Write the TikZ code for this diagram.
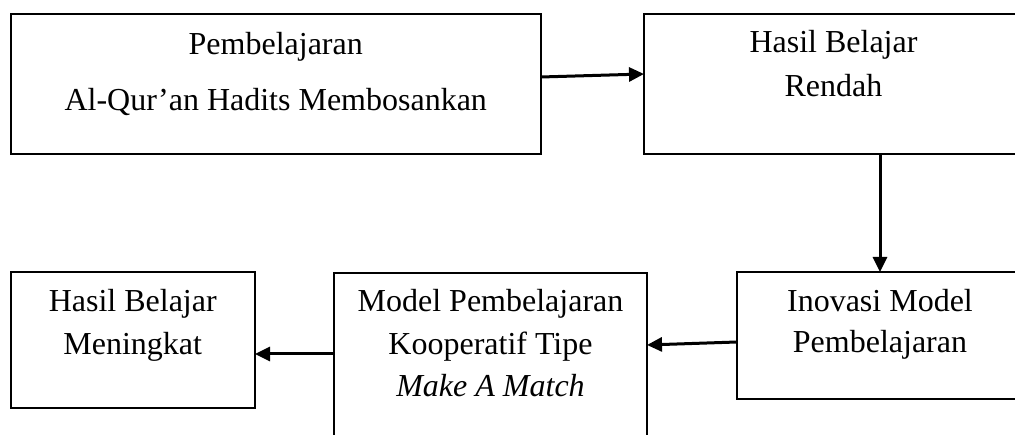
\documentclass[tikz,border=0pt]{standalone}
\usepackage{fontspec}
\setmainfont{Liberation Serif}
\usetikzlibrary{arrows.meta}
\begin{document}
\begin{tikzpicture}[x=1pt,y=-1pt,
  box/.style={draw, line width=2pt, inner sep=0pt, outer sep=0pt, rectangle},
  txt/.style={anchor=base, inner sep=0pt, font=\fontsize{32}{38}\selectfont},
  arr/.style={line width=3pt, -{Triangle[length=15pt,width=14pt]}}]
\useasboundingbox (0,0) rectangle (1015,435);
\clip (0,0) rectangle (1015,435);

% boxes
\node[box, minimum width=530.5pt, minimum height=140pt] (b1) at (275.75,84) {};
\node[box, minimum width=379pt, minimum height=140pt] (b2) at (833.5,84) {};
\node[box, minimum width=286pt, minimum height=127pt] (b3) at (880,335.5) {};
\node[box, minimum width=313pt, minimum height=197pt] (b4) at (490.5,371.5) {};
\node[box, minimum width=244.5pt, minimum height=136pt] (b5) at (132.75,340) {};

% texts
\node[txt] (t1a) at (275.75,55) {Pembelajaran};
\node[txt] (t1b) at (275.75,111) {Al-Qur’an Hadits Membosankan};
\node[txt] (t2a) at (833.5,53) {Hasil Belajar};
\node[txt] (t2b) at (833.5,97) {Rendah};
\node[txt] (t3a) at (880,312) {Inovasi Model};
\node[txt] (t3b) at (880,353) {Pembelajaran};
\node[txt] (t4a) at (490.5,312) {Model Pembelajaran};
\node[txt] (t4b) at (490.5,355) {Kooperatif Tipe};
\node[txt] (t4c) at (490.5,397) {\itshape Make A Match};
\node[txt] (t5a) at (132.75,312) {Hasil Belajar};
\node[txt] (t5b) at (132.75,355) {Meningkat};

% connectors
\draw[arr] ([yshift=7pt]b1.east) -- ([yshift=10pt]b2.west);
\draw[arr] (b2.south -| b3.north) -- (b3.north);
\draw[arr] ([yshift=-6.5pt]b3.west) -- ([yshift=26.5pt]b4.east);
\draw[arr] ([yshift=17.5pt]b4.west) -- ([yshift=-14pt]b5.east);
\end{tikzpicture}
\end{document}
